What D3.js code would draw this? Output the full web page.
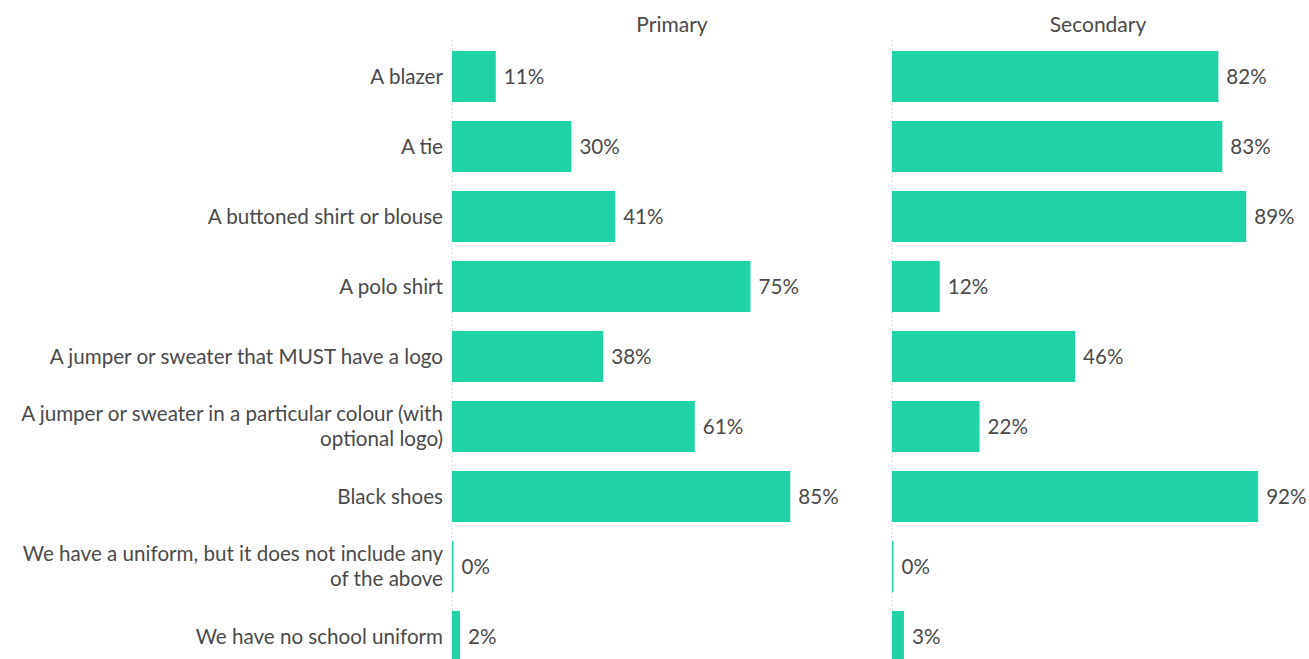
<!DOCTYPE html>
<html><head><meta charset="utf-8">
<script src="https://cdn.jsdelivr.net/npm/d3@7"></script>
<style>
html,body{margin:0;padding:0;background:#fff;}
svg{display:block;font-family:Lato,"Open Sans",sans-serif;}
</style></head>
<body><svg id="c" width="1309" height="659"></svg>
<script>
const categories = [
  ["A blazer"],
  ["A tie"],
  ["A buttoned shirt or blouse"],
  ["A polo shirt"],
  ["A jumper or sweater that MUST have a logo"],
  ["A jumper or sweater in a particular colour (with", "optional logo)"],
  ["Black shoes"],
  ["We have a uniform, but it does not include any", "of the above"],
  ["We have no school uniform"]
];
const panels = ["Primary", "Secondary"];
const primary = [11, 30, 41, 75, 38, 61, 85, 0, 2];
const secondary = [82, 83, 89, 12, 46, 22, 92, 0, 3];
const series = [primary, secondary];

const svg = d3.select("#c");
const color = "#20d3a7";
const textColor = "#4a4a4a";
const fs = 20.6;

const y = d3.scaleBand().domain(d3.range(categories.length)).range([41.5, 671.5]).paddingInner(0.27).paddingOuter(0.135);
const panelX = [452, 892];
const x = d3.scaleLinear().domain([0, 100]).range([0, 398]);
const titleX = [672, 1098];

// category labels
const lab = svg.append("g").attr("font-size", fs).attr("fill", textColor).attr("text-anchor", "end");
categories.forEach((lines, i) => {
  const cy = y(i) + y.bandwidth() / 2;
  const lh = 25;
  const t = lab.append("text").attr("x", 443).attr("y", cy - (lines.length - 1) * lh / 2);
  lines.forEach((l, j) => {
    t.append("tspan").attr("x", 443).attr("dy", j === 0 ? "0.35em" : lh).text(l);
  });
});

panels.forEach((p, k) => {
  const g = svg.append("g").attr("transform", `translate(${panelX[k]},0)`);
  g.append("line").attr("x1", 0).attr("x2", 0).attr("y1", 40).attr("y2", 659)
    .attr("stroke", "#d8d8d8").attr("stroke-width", 1).attr("stroke-dasharray", "2,2");
  g.selectAll("rect").data(series[k]).join("rect")
    .attr("x", 0).attr("y", (d, i) => y(i))
    .attr("width", d => Math.max(x(d), 1.5)).attr("height", y.bandwidth())
    .attr("fill", color);
  g.selectAll("text.v").data(series[k]).join("text").attr("class", "v")
    .attr("x", d => Math.max(x(d), 1.5) + 8).attr("y", (d, i) => y(i) + y.bandwidth() / 2)
    .attr("dy", "0.35em").attr("font-size", fs).attr("fill", textColor)
    .text(d => d + "%");
  svg.append("text").attr("x", titleX[k]).attr("y", 25).attr("dy", "0.35em")
    .attr("text-anchor", "middle").attr("font-size", 21).attr("fill", textColor).text(p);
});
</script></body></html>
